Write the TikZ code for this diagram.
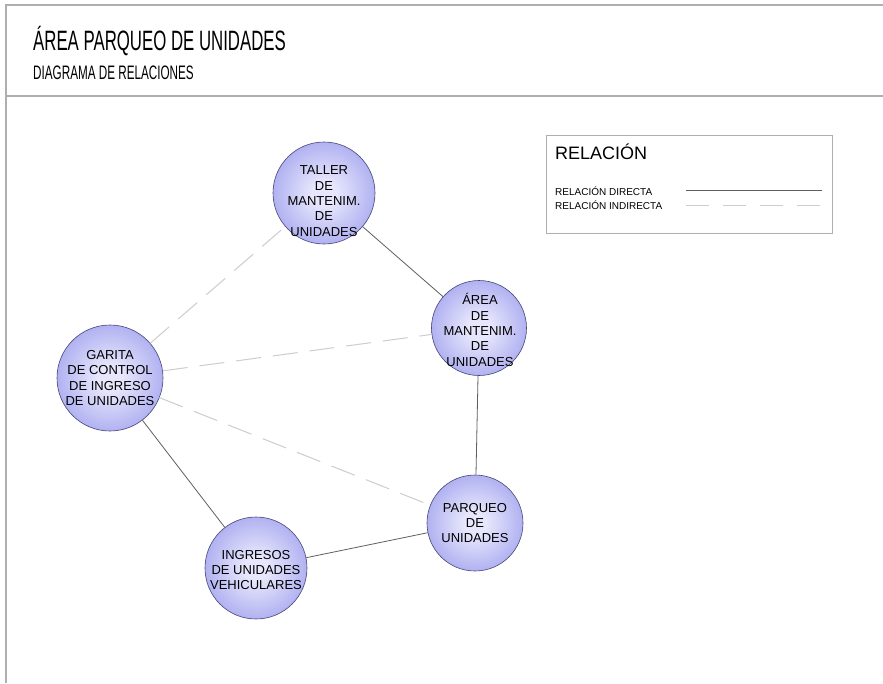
\documentclass[tikz,border=0pt]{standalone}
\usepackage{fontspec}
\setmainfont{Liberation Sans}
\newfontfamily\narrowsans[FakeStretch=0.6]{Liberation Sans}
\definecolor{ballin}{RGB}{230,230,252}
\definecolor{ballout}{RGB}{108,108,228}
\definecolor{ballline}{RGB}{70,70,120}
\definecolor{framegray}{RGB}{175,175,175}
\definecolor{solidgray}{RGB}{95,95,95}
\definecolor{dashgray}{RGB}{205,205,205}
\pgfdeclareradialshading{nodeball}{\pgfpoint{0bp}{0bp}}{color(0bp)=(ballin); color(6bp)=(ballin); color(50bp)=(ballout)}
\tikzset{
  frameline/.style={draw=framegray, line width=1.3pt},
  ball/.style={circle, draw=ballline, line width=0.6pt, shading=nodeball, align=center,
    inner sep=0pt, text=black, font=\fontsize{13}{15.3}\selectfont},
  balltext/.style={align=center, inner sep=0pt, text=black, font=\fontsize{13}{15.3}\selectfont},
  direct/.style={draw=solidgray, line width=0.8pt},
  indirect/.style={draw=dashgray, line width=1pt, dash pattern=on 25pt off 12pt},
  txt/.style={inner sep=0pt, text=black},
}
\begin{document}
\begin{tikzpicture}[x=1pt,y=-1pt]
\useasboundingbox (0,0) rectangle (883,683);
\fill[white] (0,0) rectangle (883,683);
% frame
\draw[frameline] (6,683) -- (6,5) -- (883,5);
\draw[frameline] (6,96) -- (883,96);
% title
\node[txt, anchor=base west, font=\narrowsans\fontsize{28}{28}\selectfont] (title) at (33,50) {ÁREA PARQUEO DE UNIDADES};
\node[txt, anchor=base west, font=\narrowsans\fontsize{19.5}{19.5}\selectfont] (subtitle) at (33,79) {DIAGRAMA DE RELACIONES};
% legend
\node[draw=framegray, line width=0.8pt, minimum width=286pt, minimum height=98pt, anchor=north west, inner sep=0pt] (legend) at (546,135) {};
\node[txt, anchor=base west, font=\fontsize{18}{18}\selectfont] (legtitle) at (555,159) {RELACIÓN};
\node[txt, anchor=base west, font=\fontsize{10}{10}\selectfont] (legdir) at (555,195.5) {RELACIÓN DIRECTA};
\node[txt, anchor=base west, font=\fontsize{10}{10}\selectfont] (legind) at (555,209) {RELACIÓN INDIRECTA};
\coordinate (ld1) at (686,190);
\coordinate (ld2) at (822,190);
\coordinate (li1) at (686,205);
\coordinate (li2) at (822,205);
\draw[direct] (ld1) -- (ld2);
\draw[indirect, dash pattern=on 23pt off 14pt] (li1) -- (li2);
% nodes
\node[ball, minimum size=102pt] (taller) at (324,193) {};
\node[balltext] (tallertext) at (324,201) {TALLER\\DE\\MANTENIM.\\DE\\UNIDADES};
\node[ball, minimum size=95pt] (area) at (479,328) {};
\node[balltext] (areatext) at (480,330) {ÁREA\\DE\\MANTENIM.\\DE\\UNIDADES};
\node[ball, minimum size=106pt] (garita) at (110,378) {GARITA\\DE CONTROL\\DE INGRESO\\DE UNIDADES};
\node[ball, minimum size=96pt] (parqueo) at (475,523) {PARQUEO\\DE\\UNIDADES};
\node[ball, minimum size=102pt] (ingresos) at (256,568) {};
\node[balltext] (ingresostext) at (256,570) {INGRESOS\\DE UNIDADES\\VEHICULARES};
% connectors
\draw[direct] (taller) -- (area);
\draw[direct] (area) -- (parqueo);
\draw[direct] (parqueo) -- (ingresos);
\draw[direct] (ingresos) -- (garita);
\draw[indirect] (garita) -- (taller);
\draw[indirect] (garita) -- (area);
\draw[indirect] (garita) -- (parqueo);
\end{tikzpicture}
\end{document}
